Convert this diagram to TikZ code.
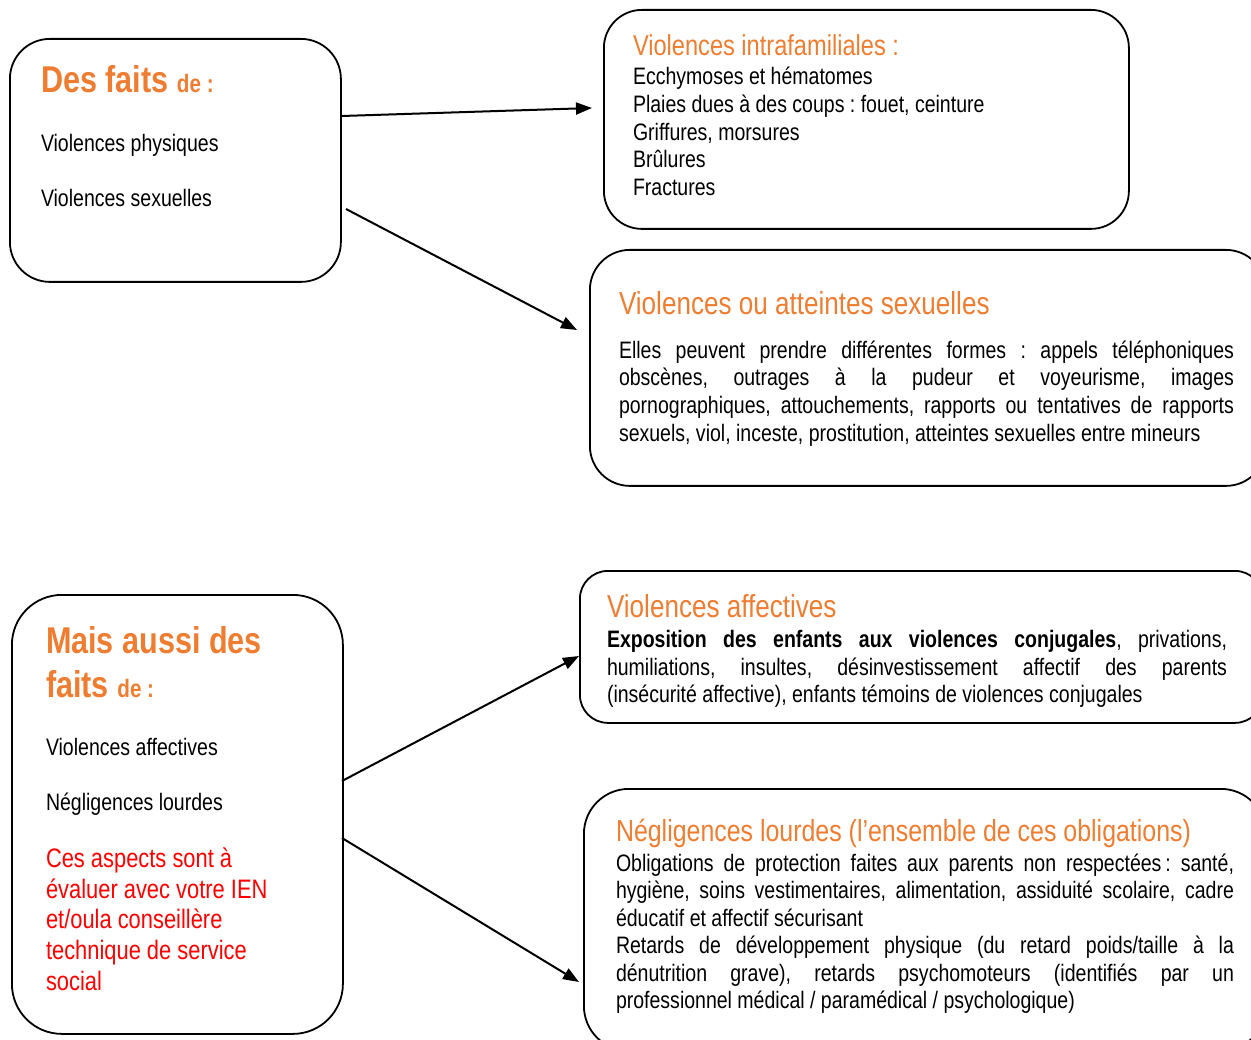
\documentclass[tikz,border=0pt]{standalone}
\usepackage{fontspec}
\setmainfont{Liberation Sans}[FakeStretch=0.82]
\usetikzlibrary{arrows.meta}
\definecolor{orng}{HTML}{EF7D31}
\definecolor{redt}{HTML}{FF0000}
\newcommand{\fs}[1]{\fontsize{#1}{#1}\selectfont}
\frenchspacing
\tikzset{
  box/.style={draw=black, line width=1.8pt, anchor=north west, inner sep=0pt},
  txt/.style={anchor=base west, inner sep=0pt, outer sep=0pt, font=\fs{23.8}},
  head/.style={txt, text=orng},
  redline/.style={txt, text=redt, font=\fs{26.7}},
  arr/.style={line width=2pt, -{Triangle[length=16pt,width=12pt]}},
}
\begin{document}
\begin{tikzpicture}[x=1pt,y=-1pt]
\useasboundingbox (0,0) rectangle (1251,1040);
\clip (0,0) rectangle (1251,1040);
% boxes
\node[box, rounded corners=40pt, minimum width=331pt, minimum height=243pt] (b1) at (9,38) {};
\node[box, rounded corners=38pt, minimum width=525pt, minimum height=219pt] (b2) at (603,9) {};
\node[box, rounded corners=40pt, minimum width=676pt, minimum height=236pt] (b3) at (589,249) {};
\node[box, rounded corners=50pt, minimum width=331pt, minimum height=439pt] (b4) at (11,594) {};
\node[box, rounded corners=28pt, minimum width=683pt, minimum height=152pt] (b5) at (579,570) {};
\node[box, rounded corners=45pt, minimum width=682pt, minimum height=262pt] (b6) at (583,788) {};
% box 1 text
\node[txt, text=orng, font=\fs{37.3}\bfseries] (t1a) at (41,93) {Des faits {\fs{25.2}de :}};
\node[txt] (t1b) at (41,152) {Violences physiques};
\node[txt] (t1c) at (41,207) {Violences sexuelles};
% box 2 text
\node[head, font=\fs{28.8}] (t2a) at (633,56) {Violences intrafamiliales :};
\node[txt] (t2b) at (633,85) {Ecchymoses et hématomes};
\node[txt] (t2c) at (633,113) {Plaies dues à des coups : fouet, ceinture};
\node[txt] (t2d) at (633,141) {Griffures, morsures};
\node[txt] (t2e) at (633,168) {Brûlures};
\node[txt] (t2f) at (633,196) {Fractures};
% box 3 text
\node[head, font=\fs{31.8}] (t3a) at (619,315) {Violences ou atteintes sexuelles};
\node[txt] (t3b) at (619,359) {\makebox[615pt][s]{Elles peuvent prendre différentes formes : appels téléphoniques}};
\node[txt] (t3c) at (619,386) {\makebox[615pt][s]{obscènes, outrages à la pudeur et voyeurisme, images}};
\node[txt] (t3d) at (619,414) {\makebox[615pt][s]{pornographiques, attouchements, rapports ou tentatives de rapports}};
\node[txt] (t3e) at (619,442) {sexuels, viol, inceste, prostitution, atteintes sexuelles entre mineurs};
% box 4 text
\node[txt, text=orng, font=\fs{37.3}\bfseries] (t4a) at (46,653) {Mais aussi des};
\node[txt, text=orng, font=\fs{37.3}\bfseries] (t4b) at (46,697) {faits {\fs{25.2}de :}};
\node[txt] (t4c) at (46,755) {Violences affectives};
\node[txt] (t4d) at (46,810) {Négligences lourdes};
\node[redline] (t4e) at (46,867) {Ces aspects sont à};
\node[redline] (t4f) at (46,898) {évaluer avec votre IEN};
\node[redline] (t4g) at (46,928) {et/oula conseillère};
\node[redline] (t4h) at (46,959) {technique de service};
\node[redline] (t4i) at (46,990) {social};
% box 5 text
\node[head, font=\fs{31.8}] (t5a) at (607,617) {Violences affectives};
\node[txt] (t5b) at (607,647) {\makebox[620pt][s]{\textbf{Exposition des enfants aux violences conjugales}, privations,}};
\node[txt] (t5c) at (607,675) {\makebox[620pt][s]{humiliations, insultes, désinvestissement affectif des parents}};
\node[txt] (t5d) at (607,702) {(insécurité affective), enfants témoins de violences conjugales};
% box 6 text
\node[head, font=\fs{30.4}] (t6a) at (616,841) {Négligences lourdes (l’ensemble de ces obligations)};
\node[txt] (t6b) at (616,871) {\makebox[618pt][s]{Obligations de protection faites aux parents non respectées\,: santé,}};
\node[txt] (t6c) at (616,898) {\makebox[618pt][s]{hygiène, soins vestimentaires, alimentation, assiduité scolaire, cadre}};
\node[txt] (t6d) at (616,926) {éducatif et affectif sécurisant};
\node[txt] (t6e) at (616,953) {\makebox[618pt][s]{Retards de développement physique (du retard poids/taille à la}};
\node[txt] (t6f) at (616,981) {\makebox[618pt][s]{dénutrition grave), retards psychomoteurs (identifiés par un}};
\node[txt] (t6g) at (616,1008) {professionnel médical / paramédical / psychologique)};
% connectors
\coordinate (s1) at (342,116); \coordinate (e1) at (592,108);
\coordinate (s2) at (346,209); \coordinate (e2) at (577,330);
\coordinate (s3) at (342,781); \coordinate (e3) at (579,656);
\coordinate (s4) at (342,838); \coordinate (e4) at (579,982);
\draw[arr] (s1) -- (e1);
\draw[arr] (s2) -- (e2);
\draw[arr] (s3) -- (e3);
\draw[arr] (s4) -- (e4);
\end{tikzpicture}
\end{document}
